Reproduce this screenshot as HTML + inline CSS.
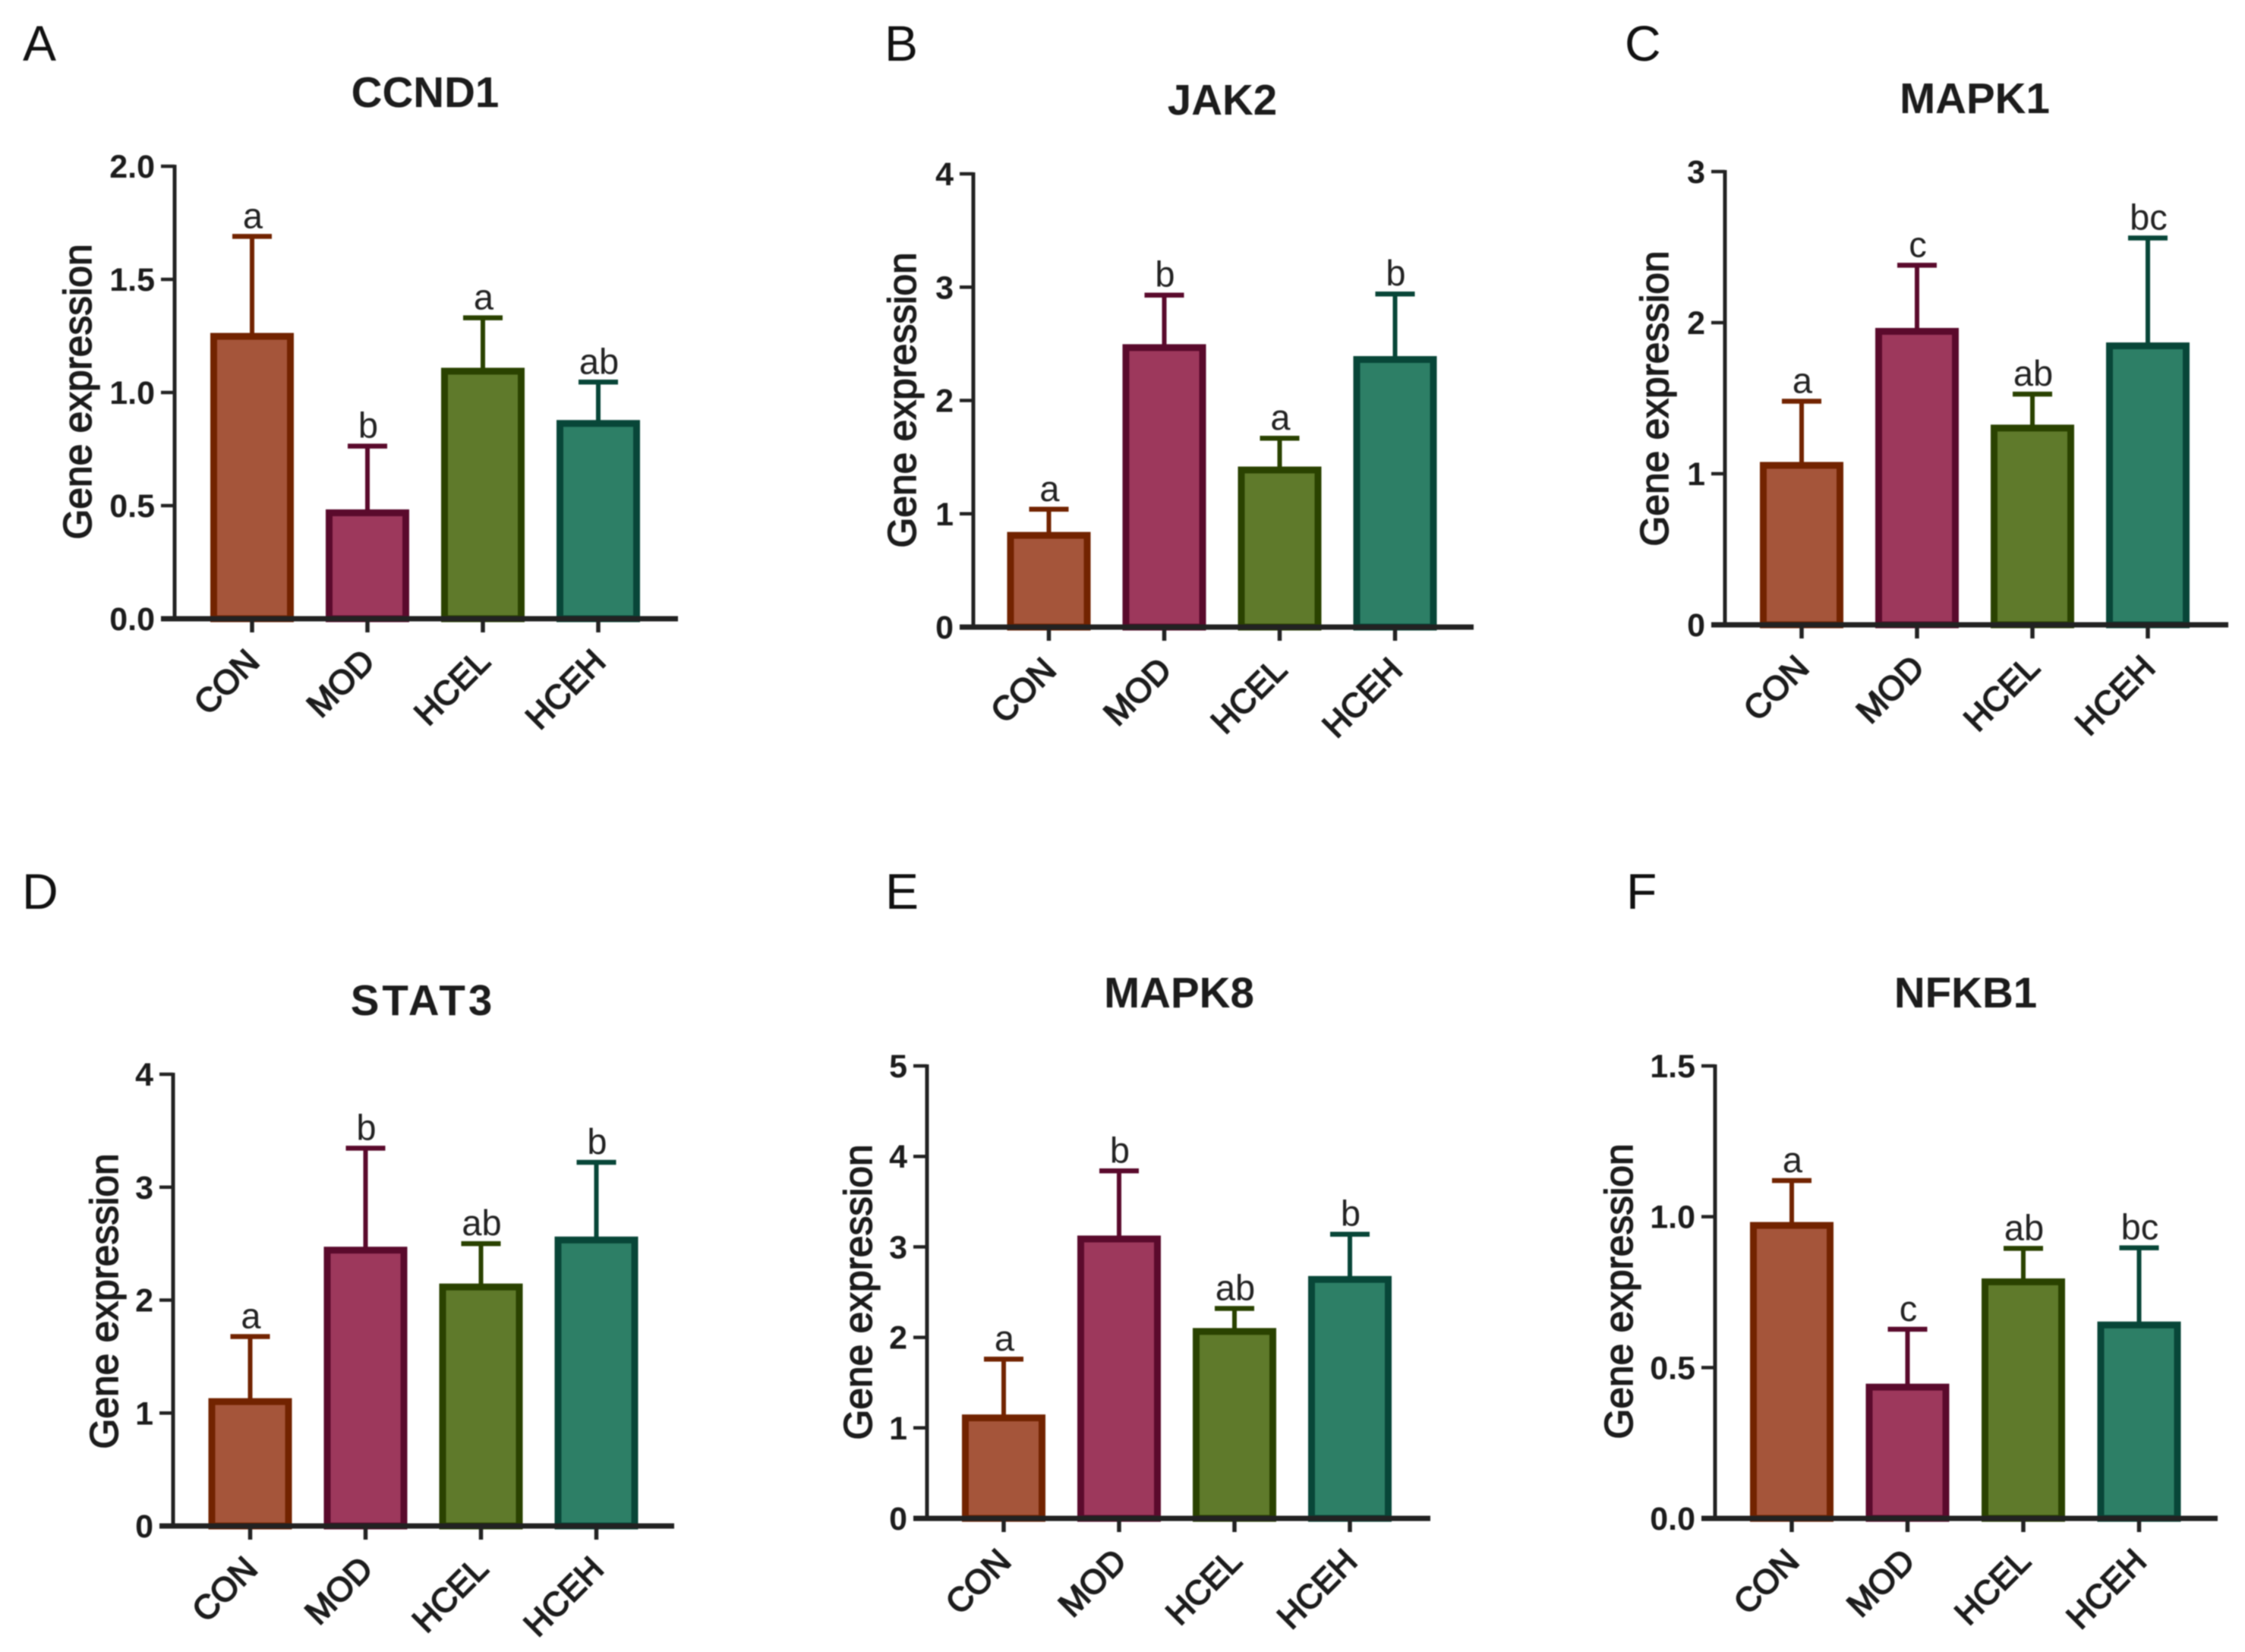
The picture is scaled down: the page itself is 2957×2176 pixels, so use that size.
<!DOCTYPE html>
<html lang="en">
<head>
<meta charset="utf-8">
<title>Gene expression panels</title>
<style>
html,body{margin:0;padding:0;background:#fff;}
svg{display:block;filter:blur(0.9px);}
text{font-family:"Liberation Sans",Arial,sans-serif;fill:#1c1c1c;}
.panel-letter{font-size:66px;fill:#111;}
.title{font-size:56.5px;font-weight:bold;text-anchor:middle;}
.ytick{font-size:43px;font-weight:bold;text-anchor:end;}
.xtick{font-size:44.5px;text-anchor:end;stroke:#1c1c1c;stroke-width:1.7px;}
.ytitle{font-size:51.5px;text-anchor:middle;stroke:#1c1c1c;stroke-width:1.5px;}
.sig{font-size:47px;text-anchor:middle;fill:#222;}
</style>
</head>
<body>
<svg id="figure" xmlns="http://www.w3.org/2000/svg" width="2957" height="2176" viewBox="0 0 2957 2176"></svg>
<script>
const categories = ['CON', 'MOD', 'HCEL', 'HCEH'];
const fills = ['#a5553a', '#9d385c', '#5f7a2b', '#2d7f66'];
const strokes = ['#722300', '#5a0a2c', '#2a4200', '#084638'];

const ccnd1Means = [1.26, 0.48, 1.106, 0.875];
const ccnd1Upper = [1.69, 0.763, 1.33, 1.046];
const ccnd1Letters = ['a', 'b', 'a', 'ab'];
const ccnd1Ticks = ['0.0', '0.5', '1.0', '1.5', '2.0'];

const jak2Means = [0.833, 2.49, 1.41, 2.385];
const jak2Upper = [1.04, 2.93, 1.667, 2.94];
const jak2Letters = ['a', 'b', 'a', 'b'];
const jak2Ticks = ['0', '1', '2', '3', '4'];

const mapk1Means = [1.073, 1.96, 1.32, 1.864];
const mapk1Upper = [1.48, 2.38, 1.527, 2.56];
const mapk1Letters = ['a', 'c', 'ab', 'bc'];
const mapk1Ticks = ['0', '1', '2', '3'];

const stat3Means = [1.125, 2.466, 2.14, 2.556];
const stat3Upper = [1.677, 3.345, 2.5, 3.22];
const stat3Letters = ['a', 'b', 'ab', 'b'];
const stat3Ticks = ['0', '1', '2', '3', '4'];

const mapk8Means = [1.14, 3.117, 2.095, 2.67];
const mapk8Upper = [1.76, 3.84, 2.32, 3.14];
const mapk8Letters = ['a', 'b', 'ab', 'b'];
const mapk8Ticks = ['0', '1', '2', '3', '4', '5'];

const nfkb1Means = [0.98, 0.444, 0.793, 0.65];
const nfkb1Upper = [1.12, 0.627, 0.895, 0.897];
const nfkb1Letters = ['a', 'c', 'ab', 'bc'];
const nfkb1Ticks = ['0.0', '0.5', '1.0', '1.5'];

const NS = 'http://www.w3.org/2000/svg';
const figure = document.getElementById('figure');

function make(parent, tag, attrs, content) {
  const el = document.createElementNS(NS, tag);
  for (const k in attrs) el.setAttribute(k, attrs[k]);
  if (content !== undefined) el.textContent = content;
  parent.appendChild(el);
  return el;
}

function drawPanel(p) {
  const group = make(figure, 'g', {});
  
  

  const tickVals = p.ticks.map(Number);
  const yMax = tickVals[tickVals.length - 1];
  const yScale = v => p.zeroY + (p.topY - p.zeroY) * (v / yMax);
  const xScale = i => p.firstX + i * p.step;

  const letter = make(group, 'text', { x: p.letterX, y: p.letterY, class: 'panel-letter' }, p.letter);
  
  

  const title = make(group, 'text', { x: p.titleX, y: p.titleY, class: 'title', 'letter-spacing': p.titleSpacing || 0 }, p.title);
  
  

  const yTitle = make(group, 'text', { class: 'ytitle', transform: 'translate(' + p.yTitleX + ' ' + p.yTitleY + ') rotate(-90)' }, 'Gene expression');
  
  

  categories.forEach((cat, i) => {
    const cx = xScale(i);
    const topV = yScale(p.means[i]);
    const capV = yScale(p.upper[i]);

    const stem = make(group, 'line', { x1: cx, x2: cx, y1: capV, y2: topV, stroke: strokes[i], 'stroke-width': 6 });
    
    

    const cap = make(group, 'line', { x1: cx - 26, x2: cx + 26, y1: capV, y2: capV, stroke: strokes[i], 'stroke-width': 6.5 });
    
    

    const bar = make(group, 'rect', { x: cx - 50.5, y: topV + 3.5, width: 101, height: Math.max(0, p.zeroY - topV - 3.5), fill: fills[i], stroke: strokes[i], 'stroke-width': 9 });
    
    

    const sig = make(group, 'text', { x: cx + 1, y: capV - 11, class: 'sig' }, p.letters[i]);
    
    

    const xTick = make(group, 'line', { x1: cx, x2: cx, y1: p.zeroY, y2: p.zeroY + 18, stroke: '#222', 'stroke-width': 5.5 });
    
    

    const lx = cx + 12;
    const ly = p.zeroY + 59;
    const xLabel = make(group, 'text', { class: 'xtick', transform: 'translate(' + lx + ' ' + ly + ') rotate(-45)' }, cat);
    
    
  });

  const yAxis = make(group, 'line', { x1: p.axisX, x2: p.axisX, y1: p.topY - 2, y2: p.zeroY, stroke: '#222', 'stroke-width': 5 });
  
  

  const xAxis = make(group, 'line', { x1: p.axisX - 18, x2: p.axisRight, y1: p.zeroY, y2: p.zeroY, stroke: '#222', 'stroke-width': 7 });
  
  

  p.ticks.forEach(t => {
    const y = yScale(Number(t));
    const yTick = make(group, 'line', { x1: p.axisX - 18, x2: p.axisX, y1: y, y2: y, stroke: '#222', 'stroke-width': 4.5 });
    
    

    const yLabel = make(group, 'text', { x: p.axisX - 26, y: y + 15, class: 'ytick' }, t);
    
    
  });
}

drawPanel({ letter: 'A', letterX: 30, letterY: 80, title: 'CCND1', titleX: 560, titleY: 141, yTitleX: 120, yTitleY: 516, axisX: 230, axisRight: 893, topY: 219, zeroY: 815, firstX: 332, step: 152, means: ccnd1Means, upper: ccnd1Upper, letters: ccnd1Letters, ticks: ccnd1Ticks });
drawPanel({ letter: 'B', letterX: 1165, letterY: 80, title: 'JAK2', titleX: 1610, titleY: 151, yTitleX: 1206, yTitleY: 527, axisX: 1282, axisRight: 1941, topY: 229, zeroY: 826, firstX: 1381.5, step: 152, means: jak2Means, upper: jak2Upper, letters: jak2Letters, ticks: jak2Ticks });
drawPanel({ letter: 'C', letterX: 2140, letterY: 80, title: 'MAPK1', titleX: 2601, titleY: 149, yTitleX: 2197, yTitleY: 525, axisX: 2272, axisRight: 2935, topY: 226, zeroY: 823, firstX: 2373, step: 152, means: mapk1Means, upper: mapk1Upper, letters: mapk1Letters, ticks: mapk1Ticks });
drawPanel({ letter: 'D', letterX: 29, letterY: 1197, title: 'STAT3', titleX: 557, titleY: 1337, titleSpacing: 4, yTitleX: 155, yTitleY: 1714, axisX: 228, axisRight: 888, topY: 1415, zeroY: 2010, firstX: 329.5, step: 152, means: stat3Means, upper: stat3Upper, letters: stat3Letters, ticks: stat3Ticks });
drawPanel({ letter: 'E', letterX: 1166, letterY: 1197, title: 'MAPK8', titleX: 1553, titleY: 1327, yTitleX: 1148, yTitleY: 1702, axisX: 1221, axisRight: 1884, topY: 1404, zeroY: 2000, firstX: 1322, step: 152, means: mapk8Means, upper: mapk8Upper, letters: mapk8Letters, ticks: mapk8Ticks });
drawPanel({ letter: 'F', letterX: 2142, letterY: 1197, title: 'NFKB1', titleX: 2589, titleY: 1327, yTitleX: 2150, yTitleY: 1701, axisX: 2259, axisRight: 2921, topY: 1404, zeroY: 2000, firstX: 2360, step: 152.5, means: nfkb1Means, upper: nfkb1Upper, letters: nfkb1Letters, ticks: nfkb1Ticks });
</script>
</body>
</html>
